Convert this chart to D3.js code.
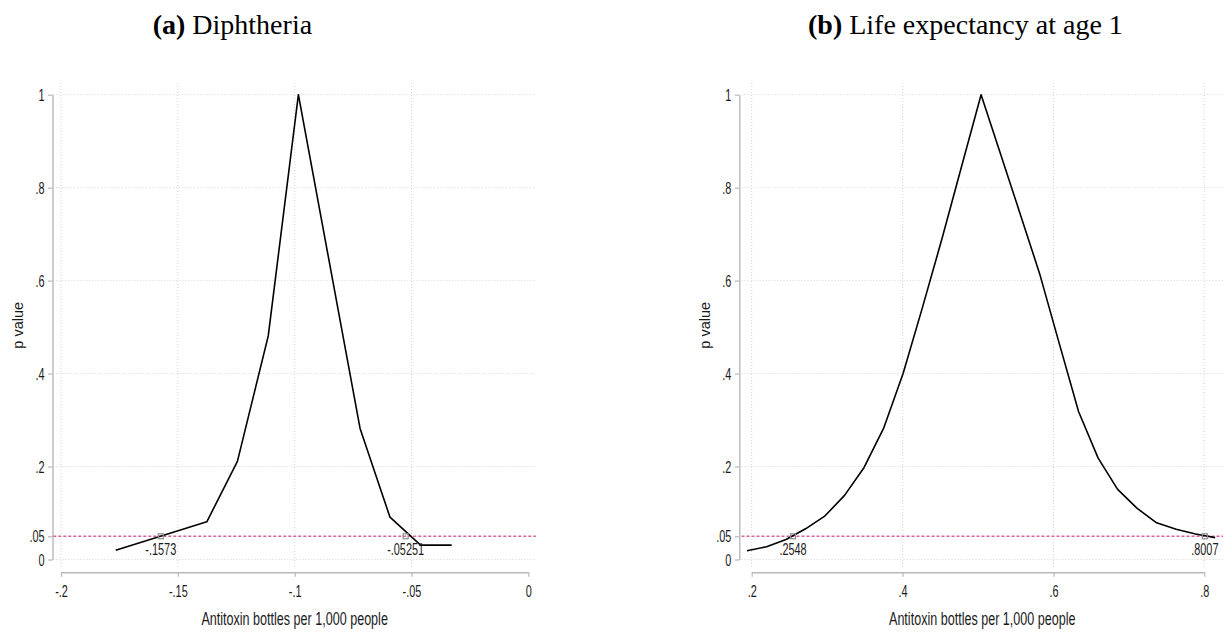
<!DOCTYPE html>
<html><head><meta charset="utf-8">
<script src="https://cdn.jsdelivr.net/npm/d3@7"></script>
<style>
html,body{margin:0;padding:0;background:#fff;}
svg{display:block;}
</style>
</head><body>
<script>
// ---------------- data ----------------
const leftX = [-0.1766, -0.1376, -0.1245, -0.1113, -0.0984, -0.0720, -0.0592, -0.0461, -0.0328];
const leftP = [0.020, 0.081, 0.211, 0.481, 1.000, 0.282, 0.091, 0.031, 0.031];
const leftCI = [-0.1573, -0.05251];
const leftCILabels = ["-.1573", "-.05251"];
const leftXTicks = [-0.2, -0.15, -0.1, -0.05, 0];
const leftXTickLabels = ["-.2", "-.15", "-.1", "-.05", "0"];

const rightX = [0.1938, 0.2197, 0.2455, 0.2714, 0.2973, 0.3231, 0.3490, 0.3748, 0.4007, 0.4265, 0.4524, 0.4783, 0.5041,
                0.5300, 0.5558, 0.5817, 0.6075, 0.6334, 0.6593, 0.6851, 0.7110, 0.7368, 0.7627, 0.7885, 0.8144];
const rightP = [0.019, 0.0275, 0.043, 0.066, 0.094, 0.138, 0.198, 0.282, 0.400, 0.543, 0.691, 0.846, 1.000,
                0.872, 0.744, 0.615, 0.466, 0.318, 0.218, 0.151, 0.110, 0.079, 0.065, 0.055, 0.047];
const rightCI = [0.2548, 0.8007];
const rightCILabels = [".2548", ".8007"];
const rightXTicks = [0.2, 0.4, 0.6, 0.8];
const rightXTickLabels = [".2", ".4", ".6", ".8"];

const yTicks = [0, 0.05, 0.2, 0.4, 0.6, 0.8, 1];
const yTickLabels = ["0", ".05", ".2", ".4", ".6", ".8", "1"];
const yGrid = [0, 0.2, 0.4, 0.6, 0.8, 1];
const threshold = 0.05;

const titles = [{b: "(a)", t: " Diphtheria"}, {b: "(b)", t: " Life expectancy at age 1"}];
const xTitle = "Antitoxin bottles per 1,000 people";
const yTitle = "p value";

// ---------------- layout ----------------
const W = 1225, H = 632;
const SX = 0.68; // horizontal condensation of the sans font
const sans = "'Liberation Sans', Arial, Helvetica, sans-serif";
const serif = "'Liberation Serif', 'Times New Roman', serif";
const axisCol = "#b8b8b8", gridCol = "#d4d4d4", textCol = "#1a1a1a", refCol = "#d8629e";

const svg = d3.select("body").append("svg").attr("width", W).attr("height", H)
  .style("font-family", sans);

const yScale = d3.scaleLinear().domain([0, 1]).range([559.5, 94.7]);
const plotTop = 83, plotBottom = 567.5;

const panels = [
  {x: leftX, p: leftP, ci: leftCI, ciLab: leftCILabels, xt: leftXTicks, xtl: leftXTickLabels,
   dom: [-0.2, 0], rng: [61, 528.3], reg: [53.3, 536], yAxisX: 52.5, gridX: [-0.2, -0.15, -0.1, -0.05],
   titleX: 152.7, yTitleX: 18},
  {x: rightX, p: rightP, ci: rightCI, ciLab: rightCILabels, xt: rightXTicks, xtl: rightXTickLabels,
   dom: [0.2, 0.8], rng: [751.7, 1204.3], reg: [741.5, 1223], yAxisX: 739.3, gridX: [0.2, 0.4, 0.6, 0.8],
   titleX: 808, yTitleX: 705}
];
const xAxisY = 572.3;

function condText(sel, x, y, txt, anchor, size) {
  return sel.append("text")
    .attr("transform", `translate(${x},${y}) scale(${SX},1)`)
    .attr("text-anchor", anchor).attr("font-size", size).attr("fill", textCol)
    .text(txt);
}

panels.forEach((P, k) => {
  const g = svg.append("g");
  const xScale = d3.scaleLinear().domain(P.dom).range(P.rng);

  // title
  const tt = g.append("text").attr("x", P.titleX).attr("y", 33.5)
    .attr("font-family", serif).attr("font-size", 28).attr("fill", "#000");
  tt.append("tspan").attr("font-weight", "bold").text(titles[k].b);
  tt.append("tspan").text(titles[k].t);

  // grid
  g.append("g").selectAll("line").data(yGrid).join("line")
    .attr("x1", P.reg[0]).attr("x2", P.reg[1])
    .attr("y1", d => yScale(d)).attr("y2", d => yScale(d))
    .attr("stroke", gridCol).attr("stroke-width", 1).attr("stroke-dasharray", "1,2");
  g.append("g").selectAll("line").data(P.gridX).join("line")
    .attr("x1", d => xScale(d)).attr("x2", d => xScale(d))
    .attr("y1", plotTop).attr("y2", plotBottom)
    .attr("stroke", gridCol).attr("stroke-width", 1).attr("stroke-dasharray", "1,2");

  // y axis
  const ya = g.append("g").attr("transform", `translate(${P.yAxisX},0)`)
    .call(d3.axisLeft(yScale).tickValues(yTicks).tickSize(4.5).tickSizeOuter(0)
      .tickFormat((d, i) => yTickLabels[i]));
  ya.select(".domain").attr("stroke", axisCol).attr("stroke-width", 1.4);
  ya.selectAll(".tick line").attr("stroke", axisCol).attr("stroke-width", 1.2);
  ya.selectAll(".tick text").each(function() {
    const t = d3.select(this);
    t.attr("x", null).attr("dy", null)
     .attr("transform", `translate(-8,5.6) scale(${SX},1)`)
     .attr("font-size", 16).attr("fill", textCol).attr("font-family", sans);
  });

  // x axis
  const xa = g.append("g").attr("transform", `translate(0,${xAxisY})`)
    .call(d3.axisBottom(xScale).tickValues(P.xt).tickSize(4.5).tickSizeOuter(0)
      .tickFormat((d, i) => P.xtl[i]));
  xa.select(".domain").attr("stroke", axisCol).attr("stroke-width", 1.4);
  xa.selectAll(".tick line").attr("stroke", axisCol).attr("stroke-width", 1.2);
  xa.selectAll(".tick text").each(function() {
    const t = d3.select(this);
    t.attr("y", null).attr("dy", null)
     .attr("transform", `translate(0,24.5) scale(${SX},1)`)
     .attr("font-size", 16).attr("fill", textCol).attr("font-family", sans);
  });

  // axis titles
  condText(g, (P.reg[0] + P.reg[1]) / 2, 625, xTitle, "middle", 18.5);
  g.append("text")
    .attr("transform", `translate(${P.yTitleX + 5},${(plotTop + plotBottom) / 2}) rotate(-90)`)
    .attr("text-anchor", "middle").attr("font-size", 14.5).attr("fill", textCol)
    .text(yTitle);

  // reference line at p = .05
  g.append("line")
    .attr("x1", P.reg[0]).attr("x2", P.reg[1])
    .attr("y1", yScale(threshold)).attr("y2", yScale(threshold))
    .attr("stroke", refCol).attr("stroke-width", 1.4).attr("stroke-dasharray", "3,2");

  // p-value curve
  const pts = P.x.map((v, i) => [v, P.p[i]]);
  g.append("path").datum(pts)
    .attr("d", d3.line().x(d => xScale(d[0])).y(d => yScale(d[1])))
    .attr("fill", "none").attr("stroke", "#000").attr("stroke-width", 1.6)
    .attr("stroke-linejoin", "round");

  // CI markers + labels
  P.ci.forEach((c, i) => {
    const cx = xScale(c), cy = yScale(threshold);
    g.append("rect").attr("x", cx - 2.5).attr("y", cy - 2.5).attr("width", 5).attr("height", 5)
      .attr("fill", "none").attr("stroke", "#8c8c8c").attr("stroke-width", 1.2);
    condText(g, cx, cy + 19, P.ciLab[i], "middle", 16);
  });
});
</script>
</body></html>
